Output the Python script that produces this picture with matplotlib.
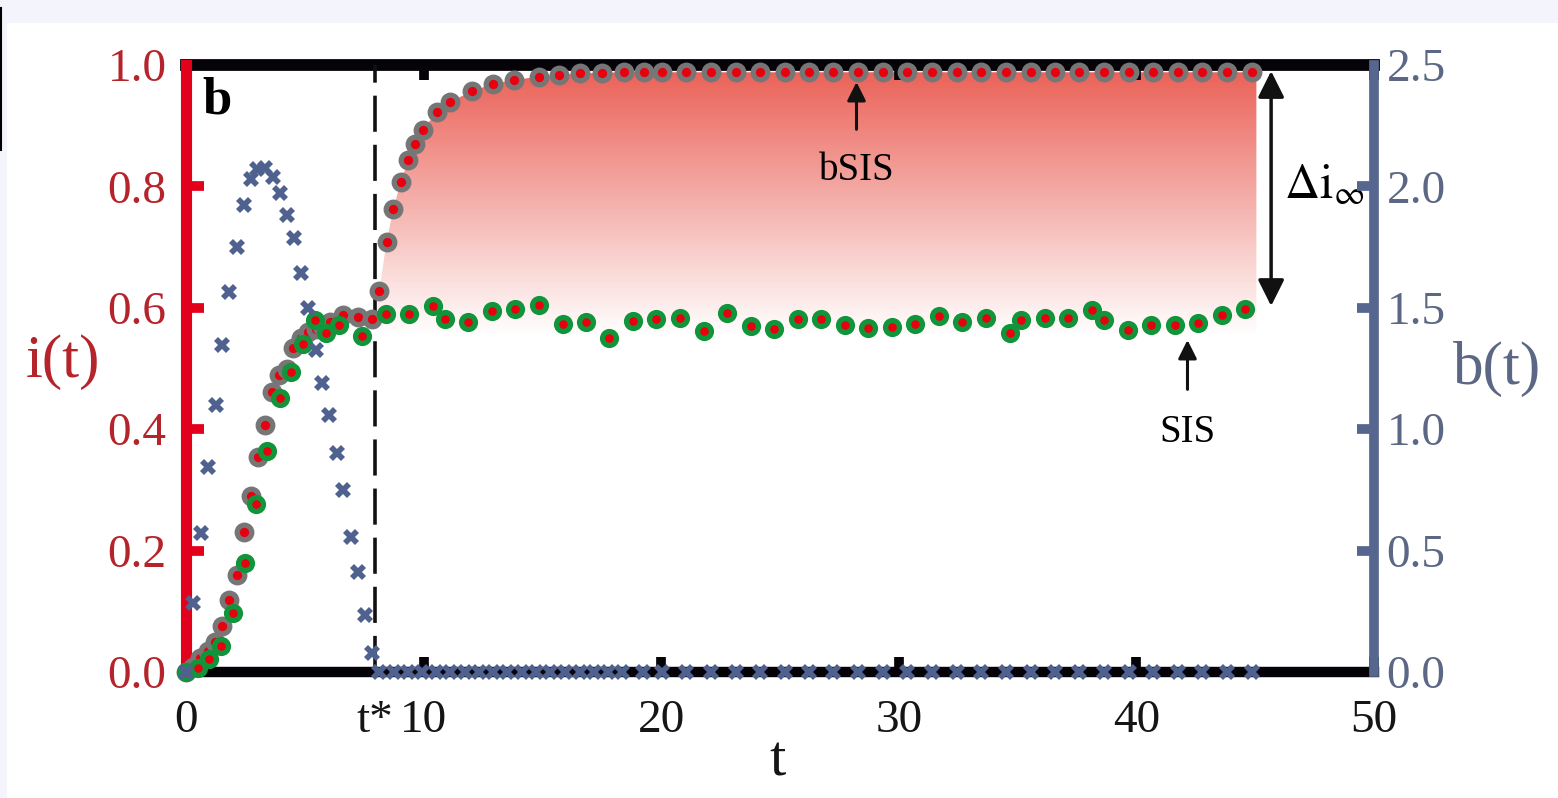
import numpy as np
import matplotlib
matplotlib.use('Agg')
import matplotlib.pyplot as plt
from matplotlib.patches import Polygon, Rectangle
from matplotlib.lines import Line2D

plt.rcParams['font.family'] = ['Liberation Serif', 'DejaVu Serif']
plt.rcParams['mathtext.fontset'] = 'stix'

t_star = 7.95

# bSIS infected density
t_bsis = [0.0, 0.31, 0.59, 0.94, 1.22, 1.53, 1.82, 2.13, 2.44, 2.74, 3.04, 3.33,
          3.63, 3.93, 4.24, 4.51, 4.84, 5.15, 5.46, 5.74, 6.06, 6.6, 7.26, 7.84,
          8.14, 8.44, 8.73, 9.03, 9.36, 9.65, 9.96, 10.55, 11.1, 12.05, 12.93,
          13.8, 14.86, 15.7, 16.6, 17.5, 18.44, 19.26, 20.03, 21.05, 22.09,
          23.13, 24.15, 25.19, 26.23, 27.25, 28.29, 29.33, 30.36, 31.4, 32.44,
          33.46, 34.5, 35.55, 36.57, 37.6, 38.65, 39.67, 40.71, 41.75, 42.78,
          43.81, 44.85]
i_bsis = [0.0, 0.008, 0.023, 0.035, 0.05, 0.076, 0.119, 0.159, 0.23, 0.29, 0.354,
          0.407, 0.462, 0.49, 0.5, 0.533, 0.55, 0.56, 0.565, 0.57, 0.577, 0.588,
          0.585, 0.581,
          0.628, 0.709, 0.763, 0.807, 0.844, 0.87, 0.893, 0.922, 0.939, 0.957,
          0.969, 0.975, 0.981, 0.984, 0.986, 0.987, 0.988, 0.988, 0.988, 0.988,
          0.988, 0.988, 0.988, 0.988, 0.988, 0.988, 0.988, 0.988, 0.988, 0.988,
          0.988, 0.988, 0.988, 0.988, 0.988, 0.988, 0.988, 0.988, 0.988, 0.988,
          0.988, 0.988, 0.988]

# plain SIS infected density
t_sis = [0.0, 0.49, 0.97, 1.46, 1.96, 2.47, 2.95, 3.43, 3.96, 4.44, 4.94, 5.43,
         5.9, 6.42, 7.42, 8.41, 9.39, 10.38, 10.9, 11.88, 12.86, 13.84, 14.85,
         15.85, 16.83, 17.82, 18.82, 19.8, 20.78, 21.79, 22.77, 23.77, 24.75,
         25.76, 26.74, 27.72, 28.72, 29.7, 30.69, 31.69, 32.67, 33.68, 34.67,
         35.16, 36.14, 37.12, 38.15, 38.62, 39.64, 40.63, 41.61, 42.59, 43.6,
         44.58]
i_sis = [0.0, 0.007, 0.022, 0.043, 0.098, 0.18, 0.277, 0.364, 0.452, 0.495, 0.54,
         0.58, 0.558, 0.572, 0.554, 0.589, 0.59, 0.603, 0.581, 0.576, 0.594,
         0.598, 0.604, 0.573, 0.577, 0.551, 0.578, 0.581, 0.584, 0.561, 0.591,
         0.57, 0.565, 0.581, 0.581, 0.572, 0.567, 0.569, 0.573, 0.586, 0.577,
         0.583, 0.559, 0.58, 0.584, 0.583, 0.596, 0.58, 0.563, 0.572, 0.572,
         0.575, 0.588, 0.598]

# blocking strength b(t)
t_b = [0.0, 0.31, 0.63, 0.94, 1.25, 1.53, 1.82, 2.13, 2.44, 2.74, 3.0, 3.33,
       3.65, 3.96, 4.24, 4.55, 4.84, 5.15, 5.46, 5.74, 6.03, 6.34, 6.62, 6.94,
       7.22, 7.53, 7.81,
       8.11, 8.74, 9.34, 9.93, 10.54, 11.13, 11.73, 12.32, 12.92, 13.51, 14.14,
       14.75, 15.34, 15.97, 16.57, 17.16, 17.76, 18.35, 19.23, 20.03, 21.05,
       22.09, 23.13, 24.15, 25.19, 26.23, 27.25, 28.29, 29.33, 30.36, 31.4,
       32.44, 33.46, 34.5, 35.55, 36.57, 37.6, 38.65, 39.67, 40.71, 41.75,
       42.78, 43.81, 44.85]
b_vals = [0.0, 0.283, 0.571, 0.843, 1.10, 1.347, 1.566, 1.752, 1.923, 2.029,
          2.07, 2.075, 2.037, 1.974, 1.882, 1.786, 1.642, 1.498, 1.326, 1.192,
          1.058, 0.903, 0.75, 0.557, 0.41, 0.235, 0.079] + [0.0] * 44

i_ticks = [0.0, 0.2, 0.4, 0.6, 0.8, 1.0]
b_ticks = [0.0, 0.5, 1.0, 1.5, 2.0, 2.5]
t_ticks = [0, 10, 20, 30, 40, 50]

red = '#E3001B'
red_txt = '#B5232B'
slate = '#56668F'
slate_txt = '#5B6784'
ink = '#050308'

fig = plt.figure(figsize=(15.58, 7.98), dpi=100)
fig.patch.set_facecolor('#F3F4FC')
fig.add_artist(Rectangle((7 / 1558, 0), 1, 775 / 798, transform=fig.transFigure,
                         facecolor='white', edgecolor='none', zorder=-1))
fig.add_artist(Line2D([0.0007, 0.0007], [1 - 8 / 798, 1 - 150 / 798],
                      transform=fig.transFigure, color='black', lw=1.5))

ax = fig.add_axes([186 / 1558, 1 - 672 / 798, 1188 / 1558, 607 / 798])
ax2 = ax.twinx()

# shaded gap between bSIS and SIS after t*
lo, hi = 0.555, 1.0
top_rgb = np.array([234, 94, 84]) / 255
frac = np.linspace(0, 1, 256)[:, None]
grad = np.ones((256, 1, 4))
grad[:, 0, :3] = 1 - frac * (1 - top_rgb)
img = ax.imshow(grad, origin='lower', extent=[t_star, 45.1, lo, hi],
                aspect='auto', interpolation='bilinear', zorder=1)
edge = [(t_star + 0.05, lo), (t_star + 0.05, 0.585)]
edge += [(t, v) for t, v in zip(t_bsis, i_bsis) if t > t_star]
edge += [(45.05, i_bsis[-1]), (45.05, lo)]
clip = Polygon(edge, closed=True, transform=ax.transData, facecolor='none', edgecolor='none')
ax.add_patch(clip)
img.set_clip_path(clip)

ax.axvline(t_star, color='#111111', lw=2.6, dashes=(10, 3.6), zorder=3)

ax.plot(t_bsis, i_bsis, 'o', ls='none', ms=10.5, mfc='#E8000F', mec='#767676',
        mew=3.8, zorder=4, clip_on=False)
ax.plot(t_sis, i_sis, 'o', ls='none', ms=10, mfc='#E8000F', mec='#11953A',
        mew=3.8, zorder=5, clip_on=False)
ax2.plot(t_b, b_vals, 'X', ls='none', ms=12, color='#4F618F', mew=0,
         zorder=5, clip_on=False)

ax.set_xlim(0, 50)
ax.set_ylim(0, 1.0)
ax2.set_ylim(0, 2.5)

# spines
ax.spines['left'].set(color=red, linewidth=8, zorder=3)
ax.spines['top'].set(color=ink, linewidth=8.5)
ax.spines['bottom'].set(color=ink, linewidth=7.5)
ax.spines['right'].set_visible(False)
for s in ['left', 'top', 'bottom']:
    ax2.spines[s].set_visible(False)
ax2.spines['right'].set(color=slate, linewidth=7)

# ticks
ax.set_yticks(i_ticks, labels=[f'{v:.1f}' for v in i_ticks])
ax.tick_params(axis='y', direction='in', length=13, width=7, color=red,
               labelcolor=red_txt, labelsize=34, pad=14, right=False)
ax.set_xticks(t_ticks, labels=[str(v) for v in t_ticks])
ax.tick_params(axis='x', direction='in', length=11, width=7, color=ink,
               labelcolor='#151515', labelsize=34, pad=20, top=True)
ax.set_xticks([t_star], labels=['t*'], minor=True)
ax.tick_params(axis='x', which='minor', length=0, labelsize=34, pad=20,
               labelcolor='#151515')

ax2.set_yticks(b_ticks, labels=[f'{v:.1f}' for v in b_ticks])
ax2.tick_params(axis='y', direction='in', length=12, width=7, color=slate,
                labelcolor=slate_txt, labelsize=34, pad=9)
for k in (0, -1):
    ax2.yaxis.get_major_ticks()[k].tick2line.set_visible(False)

# axis labels
ax.set_ylabel('i(t)', fontsize=44, color=red_txt, rotation=0, ha='center', va='center')
ax.yaxis.set_label_coords(-0.104, 0.51)
ax2.set_ylabel('b(t)', fontsize=44, color=slate_txt, rotation=0, ha='center', va='center')
ax2.yaxis.set_label_coords(1.1035, 0.50)
ax.set_xlabel('t', fontsize=42, color='#151515', va='center')
ax.xaxis.set_label_coords(0.498, -0.148)

ax.text(0.014, 0.942, 'b', transform=ax.transAxes, fontsize=38, fontweight='bold',
        ha='left', va='center', zorder=6)

# annotations
ax.annotate('bSIS', xy=(28.22, 0.972), xytext=(28.22, 0.827), fontsize=28,
            ha='center', va='center',
            arrowprops=dict(arrowstyle='-|>', lw=2.2, color='#111111',
                            mutation_scale=28, shrinkA=14, shrinkB=0))
ax.annotate('SIS', xy=(42.15, 0.547), xytext=(42.15, 0.394), fontsize=28,
            ha='center', va='center',
            arrowprops=dict(arrowstyle='-|>', lw=2.2, color='#111111',
                            mutation_scale=28, shrinkA=16, shrinkB=0))
ax.annotate('', xy=(45.67, 0.99), xytext=(45.67, 0.603),
            arrowprops=dict(arrowstyle='<|-|>', lw=2.5, color='#111111',
                            mutation_scale=40, shrinkA=0, shrinkB=0))
ax.text(47.9, 0.80, r'$\mathrm{\Delta i}_{\infty}$', fontsize=35, ha='center',
        va='center', zorder=6)

fig.savefig('out.png', dpi=100, facecolor=fig.get_facecolor())
